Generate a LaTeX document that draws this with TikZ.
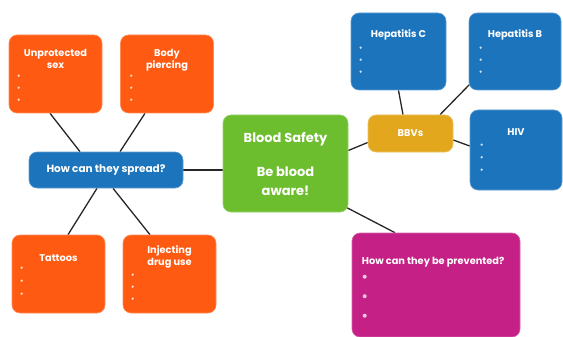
\documentclass[tikz,border=0pt]{standalone}
\usepackage{fontspec}
\setmainfont{Poppins}
\usepackage{tikz}
\usetikzlibrary{calc,backgrounds}

\definecolor{boxorange}{HTML}{FF5A12}
\definecolor{boxblue}{HTML}{1B74BC}
\definecolor{boxgreen}{HTML}{6CBE2E}
\definecolor{boxgold}{HTML}{E2A71C}
\definecolor{boxpink}{HTML}{C52085}

\tikzset{
  card/.style={rounded corners=8pt, inner sep=0pt, draw=#1!70!white, line width=0.6pt, fill=#1},
  ttl/.style={text=white, font=\bfseries\fontsize{9.8}{12}\selectfont, align=center, inner sep=0pt},
  link/.style={black!85, line width=1.3pt},
  dot/.style={fill=white!75!#1},
}

\begin{document}
\begin{tikzpicture}[x=1pt,y=-1pt]
    \useasboundingbox (0,0) rectangle (563,337);
    % orange cards
    \node[card=boxorange, minimum width=93pt, minimum height=78pt] (usex) at (55.5,74) {};
    \node[card=boxorange, minimum width=93pt, minimum height=78pt] (piercing) at (167,74) {};
    \node[card=boxorange, minimum width=93pt, minimum height=78pt] (tattoos) at (58.5,274) {};
    \node[card=boxorange, minimum width=93pt, minimum height=78pt] (drugs) at (169.5,274) {};
    \node[card=boxblue, minimum width=154pt, minimum height=36pt, ttl, font=\bfseries\fontsize{10.5}{12}\selectfont] (spread) at (106,170) {How can they spread?};
    % centre
    \node[card=boxgreen, minimum width=125pt, minimum height=97pt] (safety) at (285.5,163.5) {};
    % right side
    \node[card=boxgold, minimum width=85pt, minimum height=37pt, ttl] (bbvs) at (410.5,133.5) {BBVs};
    \node[card=boxblue, minimum width=95pt, minimum height=77pt] (hepc) at (398.5,51.5) {};
    \node[card=boxblue, minimum width=92pt, minimum height=77pt] (hepb) at (515,51.5) {};
    \node[card=boxblue, minimum width=92pt, minimum height=80pt] (hiv) at (516,150) {};
    \node[card=boxpink, minimum width=168pt, minimum height=104pt] (prevent) at (436,285) {};

    % titles
    \node[ttl, anchor=north] at ($(usex.north)+(0,14)$) {Unprotected\\sex};
    \node[ttl, anchor=north] at ($(piercing.north)+(0,14)$) {Body\\piercing};
    \node[ttl, anchor=north] at ($(tattoos.north)+(0,19.5)$) {Tattoos};
    \node[ttl, anchor=north] at ($(drugs.north)+(0,10.5)$) {Injecting\\drug use};
    \node[ttl, font=\bfseries\fontsize{13}{14}\selectfont, anchor=north] at ($(safety.north)+(0,17.5)$) {Blood Safety};
    \node[ttl, font=\bfseries\fontsize{13}{19}\selectfont, anchor=north] at ($(safety.north)+(0,52)$) {Be blood\\aware!};
    \node[ttl, anchor=north] at ($(hepc.north)+(0,16.5)$) {Hepatitis C};
    \node[ttl, anchor=north] at ($(hepb.north)+(0,16.5)$) {Hepatitis B};
    \node[ttl, anchor=north] at ($(hiv.north)+(0,19)$) {HIV};
    \node[ttl, anchor=north west] at ($(prevent.north west)+(10,24)$) {How can they be prevented?};

    % bullets
    \foreach \k in {0,1,2} {
      \fill[dot=boxorange] ($(usex.north west)+(10,41+12*\k)$) circle (1.3);
      \fill[dot=boxorange] ($(piercing.north west)+(11,41+12*\k)$) circle (1.3);
      \fill[dot=boxorange] ($(tattoos.north west)+(10,33+13*\k)$) circle (1.3);
      \fill[dot=boxorange] ($(drugs.north west)+(10,40+12*\k)$) circle (1.3);
      \fill[dot=boxblue] ($(hepc.north west)+(10,35+12*\k)$) circle (1.3);
      \fill[dot=boxblue] ($(hepb.north west)+(12,35+12*\k)$) circle (1.3);
      \fill[dot=boxblue] ($(hiv.north west)+(12,35+12.5*\k)$) circle (1.3);
      \fill[dot=boxpink] ($(prevent.north west)+(13,44+19.5*\k)$) circle (2);
    }

    % connectors
    \begin{scope}[on background layer]
      \draw[link] ($(usex.south)+(-5.5,0)$) -- ($(spread.north)+(-26,0)$);
      \draw[link] ($(piercing.south)+(-22,0)$) -- ($(spread.north)+(14,0)$);
      \draw[link] ($(spread.south)+(-9,0)$) -- ($(tattoos.north)+(9.5,0)$);
      \draw[link] ($(spread.south)+(7,0)$) -- ($(drugs.north)+(-19.5,0)$);
      \draw[link] (spread.east) -- (safety.west |- spread.east);
      \draw[link] ($(safety.east)+(0,-13)$) -- ($(bbvs.west)+(0,9)$);
      \draw[link] ($(bbvs.north)+(-7.5,0)$) -- (hepc.south);
      \draw[link] ($(bbvs.north)+(29.5,0)$) -- ($(hepb.south west)+(1,-6)$);
      \draw[link] ($(bbvs.east)+(0,6.5)$) -- ($(hiv.west)+(0,-4)$);
      \draw[link] ($(safety.south east)+(-6,-7)$) -- ($(prevent.north)+(-41,0)$);
    \end{scope}
\end{tikzpicture}
\end{document}
